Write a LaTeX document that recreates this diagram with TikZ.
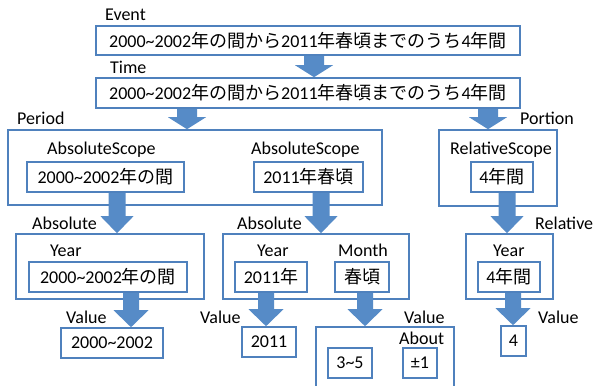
\documentclass[tikz,border=0pt]{standalone}
\usepackage{fontspec}
\setmainfont{Carlito}
\newfontfamily\jp{Noto Sans CJK JP}
\usetikzlibrary{calc}
\definecolor{boxblue}{RGB}{79,129,189}
\definecolor{arrblue}{RGB}{86,139,199}
\newcommand{\TL}{\textasciitilde}
\newcommand{\blockarrow}[6]{%
  \fill[arrblue] let \p1=(#1,0 |- #2.south), \p2=(#1,0 |- #3.north) in
    (\x1-#4pt,\y1) -- (\x1+#4pt,\y1) -- (\x1+#4pt,\y2+#6pt) -- (\x1+#5pt,\y2+#6pt)
    -- (\x1,\y2) -- (\x1-#5pt,\y2+#6pt) -- (\x1-#4pt,\y2+#6pt) -- cycle;}
\tikzset{
  every node/.style={font=\fontsize{18}{21}\selectfont, text=black},
  bx/.style 2 args={draw=boxblue, line width=1.6pt, minimum width=#1pt,
    minimum height=#2pt, inner sep=0pt, anchor=center},
  lbl/.style={anchor=base west, inner sep=0pt}
}
\begin{document}
\begin{tikzpicture}[x=1pt,y=-1pt]
\useasboundingbox (0,0) rectangle (593,385);
\clip (0,0) rectangle (593,385);
\fill[white] (0,0) rectangle (593,385);
% top
\node[lbl] (lEvent) at (105,21) {Event};
\node[bx={424}{29}] (event) at (308,40.5) {2000\TL 2002{\jp 年の間から}2011{\jp 年春頃までのうち}4{\jp 年間}};
\node[lbl] (lTime) at (110,74) {Time};
\node[bx={424}{30}] (time) at (308,93) {2000\TL 2002{\jp 年の間から}2011{\jp 年春頃までのうち}4{\jp 年間}};
% period
\node[lbl] (lPeriod) at (17,124) {Period};
\node[bx={374}{75}] (period) at (195,167.5) {};
\node[lbl] (lAS1) at (47,154) {AbsoluteScope};
\node[bx={157}{30}] (as1) at (105.5,177) {2000\TL 2002{\jp 年の間}};
\node[lbl] (lAS2) at (251,154) {AbsoluteScope};
\node[bx={109}{30}] (as2) at (308.5,177) {2011{\jp 年春頃}};
% portion
\node[lbl] (lPortion) at (520,124) {Portion};
\node[bx={118}{76}] (portion) at (498,168) {};
\node[lbl] (lRS) at (450,154) {RelativeScope};
\node[bx={62}{30}] (rs) at (502,177) {4{\jp 年間}};
% absolute boxes
\node[lbl] (lAbsA) at (32,229) {Absolute};
\node[bx={188}{65}] (absA) at (110,266.5) {};
\node[lbl] (lYA) at (50,256) {Year};
\node[bx={158}{30}] (yA) at (108,277) {2000\TL 2002{\jp 年の間}};
\node[lbl] (lAbsB) at (237,229) {Absolute};
\node[bx={186}{65}] (absB) at (316,266.5) {};
\node[lbl] (lYB) at (257,256) {Year};
\node[bx={72}{30}] (yB) at (271,277) {2011{\jp 年}};
\node[lbl] (lMB) at (338,256) {Month};
\node[bx={54}{30}] (mB) at (362,277) {{\jp 春頃}};
\node[lbl] (lRelC) at (535,229) {Relative};
\node[bx={87}{65}] (relC) at (509.5,266.5) {};
\node[lbl] (lYC) at (493,256) {Year};
\node[bx={62}{30}] (yC) at (509,277) {4{\jp 年間}};
% values
\node[lbl] (lV1) at (66,323) {Value};
\node[bx={102}{30}] (v1) at (112,343) {2000\TL 2002};
\node[lbl] (lV2) at (200,323) {Value};
\node[bx={54}{30}] (v2) at (269,342) {2011};
\node[lbl] (lV3) at (404,323) {Value};
\node[bx={138}{68}] (v3) at (385,361) {};
\node[lbl] (lAbout) at (399,344) {About};
\node[bx={44}{30}] (v3a) at (350,363) {3\TL 5};
\node[bx={34}{30}] (v3b) at (420,363) {±1};
\node[lbl] (lV4) at (538,323) {Value};
\node[bx={25}{30}] (v4) at (513.5,341) {4};
% arrows
\blockarrow{314}{event}{time}{10}{19}{12}
\blockarrow{187}{time}{period}{10}{19}{12}
\blockarrow{488}{time}{portion}{10}{19}{12}
\blockarrow{117}{as1}{absA}{8.5}{16.5}{17}
\blockarrow{321}{as2}{absB}{8.5}{16.5}{17}
\blockarrow{507}{rs}{relC}{8.5}{16.5}{17}
\blockarrow{131}{yA}{v1}{8}{17.5}{17}
\blockarrow{266}{yB}{v2}{8}{17.5}{17}
\blockarrow{365}{mB}{v3}{8}{17.5}{17}
\blockarrow{513}{yC}{v4}{8}{17.5}{17}
\end{tikzpicture}
\end{document}
